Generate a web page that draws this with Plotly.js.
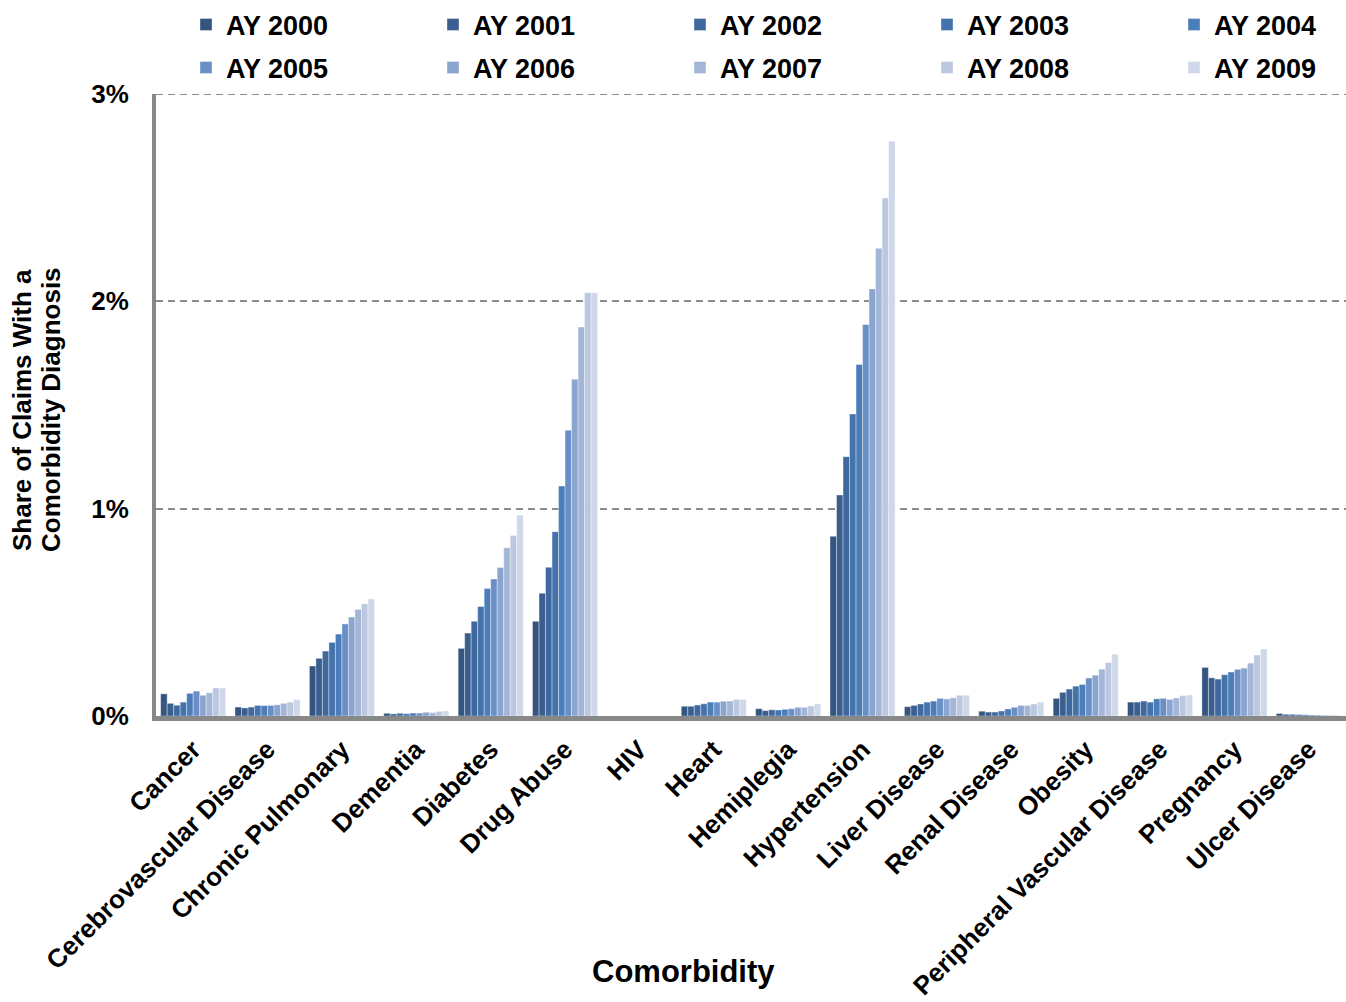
<!DOCTYPE html>
<html>
<head>
<meta charset="utf-8">
<script src="https://cdn.plot.ly/plotly-3.0.1.min.js"></script>
<style>
  html, body { margin: 0; padding: 0; background: #ffffff; }
  #chart { width: 1346px; height: 1002px; }
</style>
</head>
<body>
<div id="chart"></div>
<script>
const categories = ["Cancer", "Cerebrovascular Disease", "Chronic Pulmonary", "Dementia", "Diabetes",
  "Drug Abuse", "HIV", "Heart", "Hemiplegia", "Hypertension", "Liver Disease", "Renal Disease",
  "Obesity", "Peripheral Vascular Disease", "Pregnancy", "Ulcer Disease"];

const years = ["AY 2000", "AY 2001", "AY 2002", "AY 2003", "AY 2004",
  "AY 2005", "AY 2006", "AY 2007", "AY 2008", "AY 2009"];

// Values in percent, per comorbidity, AY 2000..AY 2009
const cancer          = [0.107, 0.061, 0.052, 0.067, 0.109, 0.120, 0.100, 0.112, 0.135, 0.135];
const cerebrovascular = [0.043, 0.039, 0.043, 0.051, 0.050, 0.051, 0.054, 0.061, 0.067, 0.079];
const chronicPulm     = [0.241, 0.278, 0.313, 0.355, 0.395, 0.444, 0.477, 0.514, 0.541, 0.565];
const dementia        = [0.013, 0.010, 0.013, 0.011, 0.014, 0.014, 0.018, 0.016, 0.022, 0.024];
const diabetes        = [0.326, 0.400, 0.457, 0.528, 0.615, 0.661, 0.716, 0.812, 0.870, 0.969];
const drugAbuse       = [0.457, 0.592, 0.717, 0.889, 1.109, 1.378, 1.624, 1.876, 2.041, 2.041];
const hiv             = [0, 0, 0, 0, 0, 0, 0, 0, 0, 0];
const heart           = [0.047, 0.047, 0.053, 0.059, 0.067, 0.067, 0.071, 0.072, 0.080, 0.080];
const hemiplegia      = [0.035, 0.026, 0.030, 0.029, 0.032, 0.035, 0.042, 0.042, 0.048, 0.058];
const hypertension    = [0.867, 1.066, 1.251, 1.457, 1.695, 1.888, 2.060, 2.256, 2.498, 2.772];
const liver           = [0.045, 0.051, 0.058, 0.067, 0.072, 0.085, 0.082, 0.088, 0.100, 0.100];
const renal           = [0.023, 0.019, 0.019, 0.024, 0.034, 0.042, 0.051, 0.051, 0.058, 0.067];
const obesity         = [0.085, 0.114, 0.130, 0.144, 0.152, 0.183, 0.197, 0.226, 0.258, 0.298];
const peripheral      = [0.067, 0.067, 0.072, 0.067, 0.083, 0.085, 0.080, 0.087, 0.098, 0.101];
const pregnancy       = [0.234, 0.184, 0.178, 0.199, 0.212, 0.225, 0.231, 0.255, 0.294, 0.323];
const ulcer           = [0.012, 0.008, 0.008, 0.007, 0.006, 0.005, 0.005, 0.004, 0.004, 0.004];

const byCategory = [cancer, cerebrovascular, chronicPulm, dementia, diabetes, drugAbuse, hiv, heart,
  hemiplegia, hypertension, liver, renal, obesity, peripheral, pregnancy, ulcer];

const yTickVals = [0, 1, 2, 3];
const yTickText = ["0%", "1%", "2%", "3%"];
const yMax = 3;
const xAxisTitle = "Comorbidity";
const yAxisTitleLines = ["Share of Claims With a", "Comorbidity Diagnosis"];

const colors = ["#34557F", "#3A5F8F", "#3F689E", "#4472AB", "#4B7DB9",
  "#6A8FC6", "#8AA5CF", "#A4B6D7", "#BCC8E0", "#CFD8E8"];

const FONT = "Liberation Sans, Arial, sans-serif";
const W = 1346, H = 1002;
const GRID = { color: "#8c8c8c", width: 2, dash: "7px,5px" };

const legendKey = i => (i === 0 ? "legend" : "legend" + (i + 1));

const traces = years.map((yr, i) => ({
  type: "bar",
  name: yr,
  x: categories,
  y: byCategory.map(arr => arr[i]),
  marker: { color: colors[i], line: { color: "rgba(255,255,255,0.6)", width: 0.6 } },
  legend: legendKey(i),
  hoverinfo: "skip"
}));

const layout = {
  width: W, height: H,
  paper_bgcolor: "#ffffff", plot_bgcolor: "#ffffff",
  margin: { l: 156, r: 0, t: 94, b: 286 },
  barmode: "group",
  bargap: 0.125, bargroupgap: 0,
  font: { family: FONT, color: "#000000" },
  showlegend: true,
  xaxis: {
    type: "category",
    tickangle: -45,
    tickfont: { family: FONT, size: 26, color: "#000000", weight: "bold" },
    showline: true, linecolor: "#888888", linewidth: 5,
    showgrid: false, ticks: "",
    ticklabelstandoff: 3,
    automargin: false
  },
  yaxis: {
    range: [0, yMax],
    tickvals: yTickVals,
    ticktext: yTickText,
    tickfont: { family: FONT, size: 26, color: "#000000", weight: "bold" },
    ticklabelstandoff: 18,
    showline: true, linecolor: "#888888", linewidth: 4,
    showgrid: true, gridcolor: GRID.color, gridwidth: GRID.width, griddash: GRID.dash,
    zeroline: false, ticks: "",
    automargin: false
  },
  shapes: [
    { type: "line", xref: "paper", yref: "y", x0: 0, x1: 1, y0: yMax, y1: yMax, layer: "below",
      line: { color: GRID.color, width: GRID.width, dash: GRID.dash } }
  ],
  annotations: [
    { text: xAxisTitle, xref: "paper", yref: "paper", x: (683 - 156) / (W - 156), y: -(972 - 716) / 622,
      xanchor: "center", yanchor: "middle", showarrow: false,
      font: { family: FONT, size: 31, color: "#000000", weight: "bold" } },
    { text: yAxisTitleLines[0], xref: "paper", yref: "paper", x: -(156 - 22) / (W - 156), y: (716 - 410) / 622,
      xanchor: "center", yanchor: "middle", textangle: -90, showarrow: false,
      font: { family: FONT, size: 26, color: "#000000", weight: "bold" } },
    { text: yAxisTitleLines[1], xref: "paper", yref: "paper", x: -(156 - 51) / (W - 156), y: (716 - 410) / 622,
      xanchor: "center", yanchor: "middle", textangle: -90, showarrow: false,
      font: { family: FONT, size: 26, color: "#000000", weight: "bold" } }
  ]
};

const legendX = [186, 433, 680, 927, 1174];
const legendY = [25, 68];
years.forEach((yr, i) => {
  layout[legendKey(i)] = {
    orientation: "h",
    xref: "container", yref: "container",
    x: legendX[i % 5] / W, y: 1 - legendY[Math.floor(i / 5)] / H,
    xanchor: "left", yanchor: "middle",
    font: { family: FONT, size: 27, color: "#000000", weight: "bold" },
    bgcolor: "rgba(0,0,0,0)", borderwidth: 0,
    itemclick: false, itemdoubleclick: false
  };
});

Plotly.newPlot("chart", traces, layout, { displayModeBar: false, staticPlot: true });
</script>
</body>
</html>
